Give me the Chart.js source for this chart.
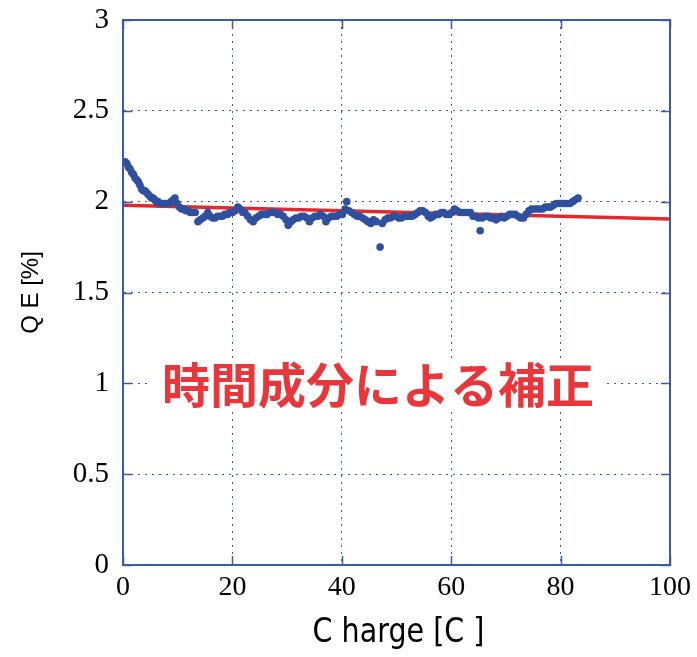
<!DOCTYPE html>
<html>
<head>
<meta charset="utf-8">
<script src="https://cdn.jsdelivr.net/npm/chart.js@4/dist/chart.umd.min.js"></script>
<style>
  html, body { margin: 0; padding: 0; background: #fff; }
  #qeChart { display: block; }
</style>
</head>
<body>
<canvas id="qeChart" width="697" height="657"></canvas>
<script>
// measured charge [C] and QE [%]
const charge = [
  0.4, 0.7, 1.0, 1.3, 1.6, 1.9, 2.2, 2.5, 2.8, 3.1, 3.4, 3.7, 4.0, 4.3, 4.6, 4.9, 5.2, 5.5, 5.8, 6.1,
  6.4, 6.8, 7.2, 7.6, 8.0, 8.4, 8.8, 9.2, 9.5, 9.9, 10.3, 10.7, 11.1, 11.5, 11.9, 12.3, 12.7, 13.2, 13.7, 14.1,
  14.6, 15.0, 15.5, 15.9, 16.4, 16.8, 17.3, 17.7, 18.2, 18.6, 19.1, 19.5, 20.0, 20.5, 21.0, 21.4, 21.9, 22.3, 22.8, 23.3,
  23.8, 24.3, 24.8, 25.3, 25.8, 26.3, 26.8, 27.3, 27.8, 28.3, 28.8, 29.3, 29.8, 30.2, 30.7, 31.1, 31.6, 32.1, 32.6, 33.1,
  33.6, 34.1, 34.6, 35.1, 35.6, 36.1, 36.6, 37.1, 37.6, 38.1, 38.6, 39.1, 39.6, 40.1, 40.6, 40.9, 41.3, 41.8, 42.3, 42.8,
  43.3, 43.8, 44.3, 44.8, 45.3, 45.8, 46.3, 47.0, 47.4, 47.9, 48.4, 48.9, 49.4, 49.9, 50.4, 50.9, 51.4, 51.9, 52.4, 52.9,
  53.4, 53.9, 54.3, 54.8, 55.3, 55.8, 56.2, 56.7, 57.2, 57.7, 58.2, 58.6, 59.1, 59.6, 60.1, 60.6, 61.1, 61.6, 62.1, 62.6,
  63.1, 63.5, 64.0, 64.5, 65.0, 65.3, 65.7, 66.2, 66.7, 67.2, 67.7, 68.2, 68.7, 69.2, 69.7, 70.2, 70.7, 71.2, 71.7, 72.2,
  72.7, 73.2, 73.7, 74.2, 74.7, 75.2, 75.7, 76.2, 76.7, 77.2, 77.7, 78.2, 78.7, 79.2, 79.7, 80.2, 80.7, 81.2, 81.7, 82.2,
  82.7, 83.2
];
const qe = [
  2.22, 2.21, 2.19, 2.18, 2.16, 2.15, 2.13, 2.12, 2.11, 2.09, 2.07, 2.06, 2.06, 2.05, 2.04, 2.03, 2.02, 2.02, 2.01, 2.00,
  2.00, 1.99, 1.99, 1.99, 1.99, 1.99, 2.00, 2.01, 2.02, 1.99, 1.97, 1.96, 1.96, 1.95, 1.95, 1.94, 1.94, 1.94, 1.89, 1.90,
  1.91, 1.92, 1.94, 1.92, 1.91, 1.91, 1.92, 1.92, 1.92, 1.93, 1.93, 1.94, 1.94, 1.95, 1.97, 1.96, 1.94, 1.94, 1.92, 1.90,
  1.89, 1.91, 1.92, 1.93, 1.93, 1.93, 1.94, 1.94, 1.94, 1.93, 1.93, 1.92, 1.90, 1.87, 1.89, 1.90, 1.91, 1.91, 1.92, 1.92,
  1.91, 1.89, 1.91, 1.92, 1.92, 1.93, 1.92, 1.89, 1.91, 1.92, 1.92, 1.92, 1.93, 1.93, 1.96, 2.00, 1.95, 1.94, 1.93, 1.92,
  1.92, 1.91, 1.90, 1.89, 1.88, 1.90, 1.89, 1.75, 1.88, 1.90, 1.91, 1.91, 1.92, 1.92, 1.91, 1.91, 1.92, 1.92, 1.92, 1.92,
  1.93, 1.94, 1.95, 1.95, 1.94, 1.92, 1.91, 1.92, 1.93, 1.93, 1.94, 1.94, 1.93, 1.93, 1.94, 1.96, 1.95, 1.94, 1.94, 1.94,
  1.94, 1.94, 1.92, 1.92, 1.91, 1.84, 1.91, 1.92, 1.92, 1.91, 1.91, 1.90, 1.91, 1.92, 1.91, 1.92, 1.93, 1.93, 1.93, 1.92,
  1.91, 1.91, 1.93, 1.95, 1.96, 1.96, 1.96, 1.96, 1.96, 1.97, 1.97, 1.97, 1.98, 1.99, 1.99, 1.99, 1.99, 1.99, 1.99, 2.00,
  2.01, 2.02
];
// time-component correction line
const fitCharge = [0, 100];
const fitQe = [1.98, 1.905];

const xTicks = [0, 20, 40, 60, 80, 100];
const yTicks = [0, 0.5, 1, 1.5, 2, 2.5, 3];

const axisBlue = '#3c5aa8';
const dotBlue = '#2f4f9f';
const fitRed = '#e22a2e';

const frame = {
  id: 'frame',
  afterDatasetsDraw(chart) {
    const { ctx, chartArea: a, scales: { x, y } } = chart;
    ctx.save();
    ctx.strokeStyle = axisBlue;
    ctx.lineWidth = 1.5;
    ctx.beginPath();
    yTicks.forEach(v => {
      const py = Math.round(y.getPixelForValue(v)) + 0.5;
      ctx.moveTo(a.left, py); ctx.lineTo(a.left + 9, py);
      ctx.moveTo(a.right, py); ctx.lineTo(a.right - 9, py);
    });
    xTicks.forEach(v => {
      const px = Math.round(x.getPixelForValue(v)) + 0.5;
      ctx.moveTo(px, a.bottom); ctx.lineTo(px, a.bottom - 9);
      ctx.moveTo(px, a.top); ctx.lineTo(px, a.top + 9);
    });
    ctx.stroke();
    ctx.lineWidth = 2;
    ctx.strokeRect(a.left, a.top, a.right - a.left, a.bottom - a.top);

    // label in the plot
    ctx.fillStyle = '#ffffff';
    ctx.fillRect(152, 362, 451, 46);
    ctx.fillStyle = '#e8363a';
    ctx.font = 'bold 48px "Noto Sans CJK JP", sans-serif';
    ctx.textAlign = 'center';
    ctx.textBaseline = 'middle';
    ctx.fillText('時間成分による補正', 378, 385);

    // x axis title, condensed gothic look
    ctx.fillStyle = '#000';
    ctx.font = '34px "DejaVu Sans", sans-serif';
    ctx.translate((a.left + a.right) / 2 + 2, 633);
    ctx.scale(0.84, 1);
    ctx.fillText('C harge [C ]', 0, 0);
    ctx.restore();
  }
};

const ctx = document.getElementById('qeChart').getContext('2d');
new Chart(ctx, {
  type: 'scatter',
  data: {
    datasets: [
      {
        label: 'QE',
        data: charge.map((c, i) => ({ x: c, y: qe[i] })),
        backgroundColor: dotBlue,
        borderWidth: 0,
        pointRadius: 3.8,
        order: 1
      },
      {
        type: 'line',
        label: 'fit',
        data: fitCharge.map((c, i) => ({ x: c, y: fitQe[i] })),
        borderColor: fitRed,
        borderWidth: 3.5,
        pointRadius: 0,
        fill: false,
        order: 2
      }
    ]
  },
  options: {
    responsive: false,
    animation: false,
    devicePixelRatio: 1,
    layout: { padding: { top: 20, right: 27, left: 0, bottom: 0 } },
    plugins: { legend: { display: false }, tooltip: { enabled: false } },
    scales: {
      x: {
        type: 'linear',
        min: 0,
        max: 100,
        afterFit: s => { s.height = 92; s.paddingLeft = 0; s.paddingRight = 0; },
        afterBuildTicks: s => { s.ticks = xTicks.map(v => ({ value: v })); },
        ticks: {
          color: '#000',
          padding: 6,
          callback: v => String(v),
          font: { family: '"Liberation Serif", "Times New Roman", serif', size: 28 }
        },
        grid: { color: axisBlue, lineWidth: 1, drawTicks: false },
        border: { display: true, color: axisBlue, width: 2, dash: [2, 5] }
      },
      y: {
        min: 0,
        max: 3,
        afterFit: s => { s.width = 123; s.paddingTop = 0; s.paddingBottom = 0; },
        afterBuildTicks: s => { s.ticks = yTicks.map(v => ({ value: v })); },
        ticks: {
          color: '#000',
          padding: 14,
          callback: v => String(v),
          font: { family: '"Liberation Serif", "Times New Roman", serif', size: 29 }
        },
        grid: { color: axisBlue, lineWidth: 1, drawTicks: false },
        border: { display: true, color: axisBlue, width: 2, dash: [2, 5] },
        title: {
          display: true,
          text: 'Q E [%]',
          color: '#000',
          padding: { top: 17, bottom: 0 },
          font: { family: '"Liberation Sans", Arial, sans-serif', size: 24 }
        }
      }
    }
  },
  plugins: [frame]
});
</script>
</body>
</html>
